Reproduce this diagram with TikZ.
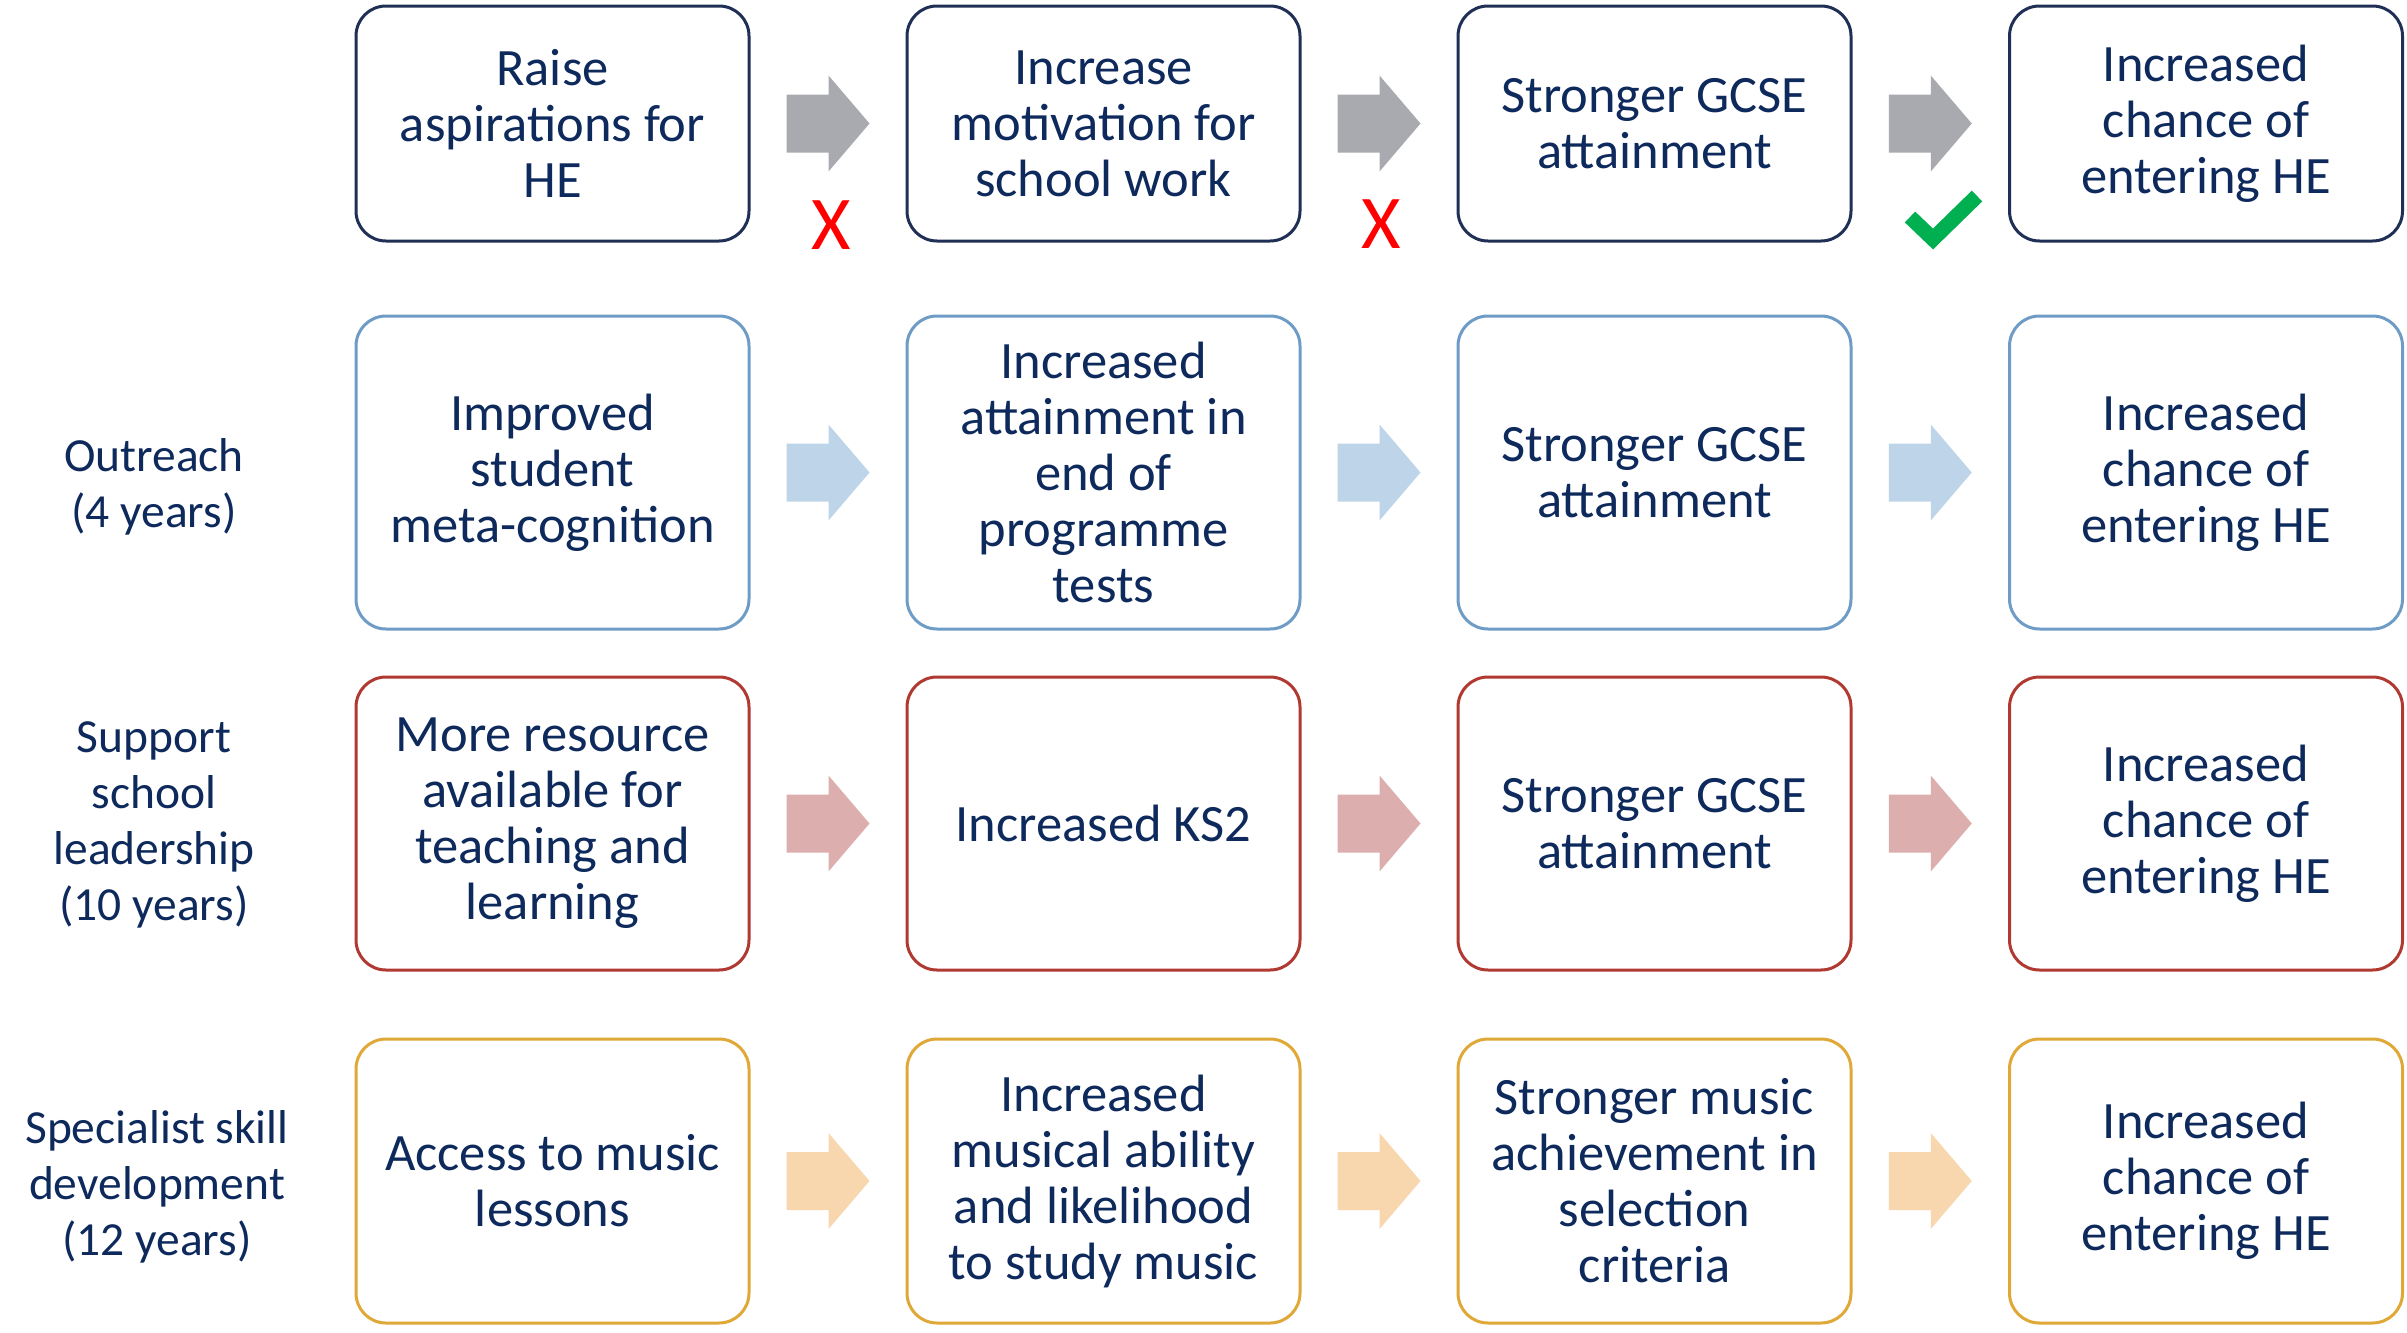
\documentclass[tikz,border=0pt]{standalone}
\usepackage{fontspec}
\setmainfont{Carlito}
\usetikzlibrary{calc}
\definecolor{txt}{HTML}{0E2A5C}
\definecolor{bNavy}{HTML}{1F2F55}
\definecolor{bBlue}{HTML}{6E9CC6}
\definecolor{bRed}{HTML}{B03A32}
\definecolor{bGold}{HTML}{E0A836}
\definecolor{aGray}{HTML}{A8AAAF}
\definecolor{aBlue}{HTML}{BDD4E9}
\definecolor{aPink}{HTML}{DCAFAE}
\definecolor{aPeach}{HTML}{F8D6AE}
\definecolor{xred}{HTML}{FF0000}
\definecolor{okgreen}{HTML}{00B050}
\tikzset{
  box/.style={draw=#1, line width=3pt, rounded corners=30pt, fill=white,
    minimum width=393pt, inner sep=0pt, outer sep=0pt, align=center,
    text=txt, font=\fontsize{52.5}{56}\selectfont},
  lab/.style={align=center, text=txt, font=\fontsize{47.5}{56}\selectfont, inner sep=0pt},
  xmark/.style={text=xred, font=\fontsize{76}{80}\selectfont, inner sep=0pt, anchor=base}
}
\newcommand\blockarrow[3]{%
  \fill[#1] ($(#2.east)!.5!(#3.west)$) ++(-41.5,-29) -- ++(42,0) -- ++(0,-19)
    -- ++(41,48) -- ++(-41,48) -- ++(0,-19) -- ++(-42,0) -- cycle;}
\begin{document}
\begin{tikzpicture}[x=1pt,y=-1pt]
\useasboundingbox[fill=white] (0,0) rectangle (2407,1333);
% row 1
\node[box=bNavy, minimum height=235pt] (a1) at (552.5,123.5) {Raise\\aspirations for\\HE};
\node[box=bNavy, minimum height=235pt] (a2) at (1103.5,123.5) {Increase\\motivation for\\school work};
\node[box=bNavy, minimum height=235pt] (a3) at (1654.5,123.5) {Stronger GCSE\\attainment};
\node[box=bNavy, minimum height=235pt] (a4) at (2206,123.5) {Increased\\chance of\\entering HE};
% row 2
\node[box=bBlue, minimum height=313pt] (b1) at (552.5,472.5) {Improved\\student\\meta-cognition};
\node[box=bBlue, minimum height=313pt] (b2) at (1103.5,472.5) {Increased\\attainment in\\end of\\programme\\tests};
\node[box=bBlue, minimum height=313pt] (b3) at (1654.5,472.5) {Stronger GCSE\\attainment};
\node[box=bBlue, minimum height=313pt] (b4) at (2206,472.5) {Increased\\chance of\\entering HE};
% row 3
\node[box=bRed, minimum height=293pt] (c1) at (552.5,823.5) {More resource\\available for\\teaching and\\learning};
\node[box=bRed, minimum height=293pt] (c2) at (1103.5,823.5) {Increased KS2};
\node[box=bRed, minimum height=293pt] (c3) at (1654.5,823.5) {Stronger GCSE\\attainment};
\node[box=bRed, minimum height=293pt] (c4) at (2206,823.5) {Increased\\chance of\\entering HE};
% row 4
\node[box=bGold, minimum height=284pt] (d1) at (552.5,1181) {Access to music\\lessons};
\node[box=bGold, minimum height=284pt] (d2) at (1103.5,1181) {Increased\\musical ability\\and likelihood\\to study music};
\node[box=bGold, minimum height=284pt] (d3) at (1654.5,1181) {Stronger music\\achievement in\\selection\\criteria};
\node[box=bGold, minimum height=284pt] (d4) at (2206,1181) {Increased\\chance of\\entering HE};
% row labels
\node[lab] (lb) at (154,487) {Outreach\\(4 years)};
\node[lab] (lc) at (154,825) {Support\\school\\leadership\\(10 years)};
\node[lab] (ld) at (157,1187) {Specialist skill\\development\\(12 years)};
% arrows
\blockarrow{aGray}{a1}{a2}\blockarrow{aGray}{a2}{a3}\blockarrow{aGray}{a3}{a4}
\blockarrow{aBlue}{b1}{b2}\blockarrow{aBlue}{b2}{b3}\blockarrow{aBlue}{b3}{b4}
\blockarrow{aPink}{c1}{c2}\blockarrow{aPink}{c2}{c3}\blockarrow{aPink}{c3}{c4}
\blockarrow{aPeach}{d1}{d2}\blockarrow{aPeach}{d2}{d3}\blockarrow{aPeach}{d3}{d4}
% marks
\node[xmark] (x1) at (831,249) {X};
\node[xmark] (x2) at (1381,248) {X};
\coordinate (k1) at (1910,217);
\coordinate (k2) at (1933,239);
\coordinate (k3) at (1977,196);
\draw[okgreen, line width=15pt, line cap=butt, line join=miter] (k1) -- (k2) -- (k3);
\end{tikzpicture}
\end{document}
